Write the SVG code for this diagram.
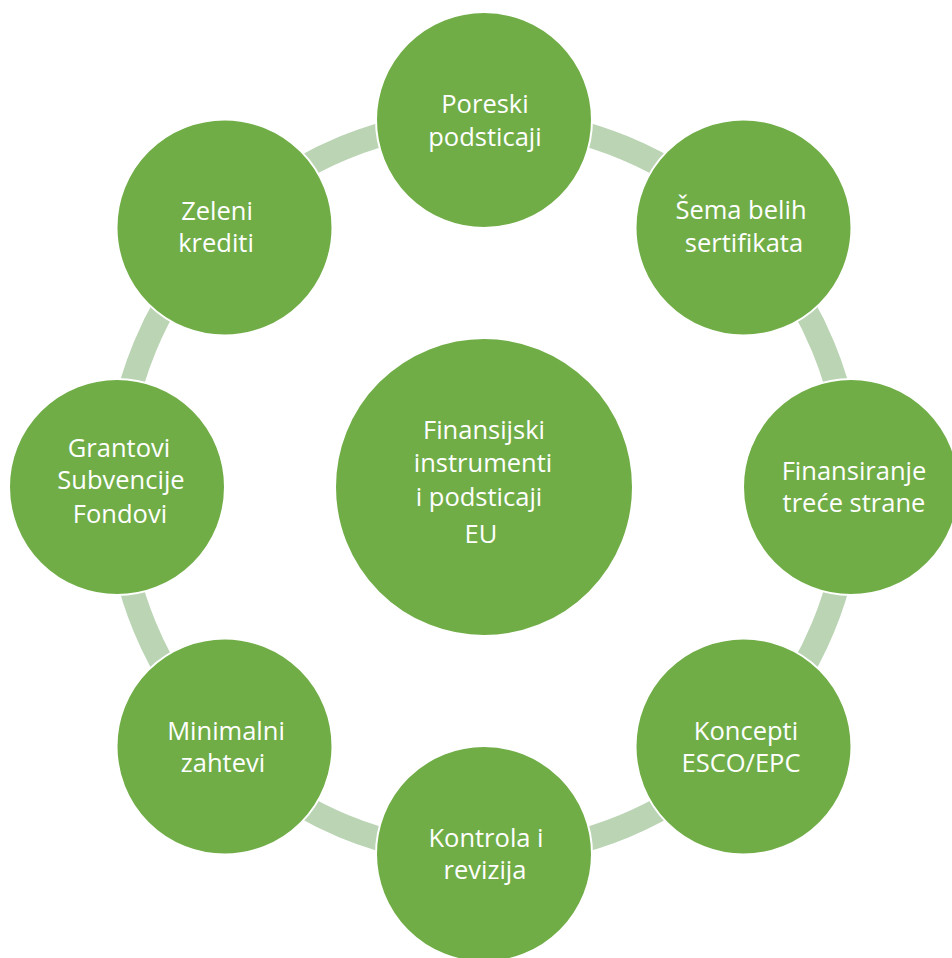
<svg xmlns="http://www.w3.org/2000/svg" width="952" height="958" viewBox="0 0 952 958">
<style>
.ring{fill:none;stroke:#bad4b4;stroke-width:24}
.node{fill:#70ad47;stroke:#ffffff;stroke-width:2}
.lbl{font-family:"Open Sans","Noto Sans","Liberation Sans",sans-serif;font-size:25.5px;fill:#ffffff;text-anchor:middle}
</style>
<rect width="952" height="958" fill="#ffffff"/>
<g id="connectors">
<path class="ring" d="M484,120 A367,367 0 0 1 743.51,227.49"/>
<path class="ring" d="M743.51,227.49 A367,367 0 0 1 851,487"/>
<path class="ring" d="M851,487 A367,367 0 0 1 743.51,746.51"/>
<path class="ring" d="M743.51,746.51 A367,367 0 0 1 484,854"/>
<path class="ring" d="M484,854 A367,367 0 0 1 224.49,746.51"/>
<path class="ring" d="M224.49,746.51 A367,367 0 0 1 117,487"/>
<path class="ring" d="M117,487 A367,367 0 0 1 224.49,227.49"/>
<path class="ring" d="M224.49,227.49 A367,367 0 0 1 484,120"/>
</g>
<g id="center">
<circle class="node" cx="484" cy="487" r="149"/>
<text class="lbl"><tspan x="484" y="439">Finansijski</tspan><tspan x="483" y="472">instrumenti</tspan><tspan x="479" y="506">i podsticaji</tspan><tspan x="481" y="543">EU</tspan></text>
</g>
<g id="poreski">
<circle class="node" cx="484" cy="120" r="108"/>
<text class="lbl"><tspan x="485" y="113">Poreski</tspan><tspan x="485" y="146">podsticaji</tspan></text>
</g>
<g id="sema">
<circle class="node" cx="743.5" cy="227.5" r="108"/>
<text class="lbl"><tspan x="741" y="219">Šema belih</tspan><tspan x="744" y="252">sertifikata</tspan></text>
</g>
<g id="finansiranje">
<circle class="node" cx="851" cy="487" r="108"/>
<text class="lbl"><tspan x="854" y="480">Finansiranje</tspan><tspan x="854" y="512">treće strane</tspan></text>
</g>
<g id="koncepti">
<circle class="node" cx="743.5" cy="746.5" r="108"/>
<text class="lbl"><tspan x="746" y="740">Koncepti</tspan><tspan x="741" y="772">ESCO/EPC</tspan></text>
</g>
<g id="kontrola">
<circle class="node" cx="484" cy="854" r="108"/>
<text class="lbl"><tspan x="486" y="847">Kontrola i</tspan><tspan x="485" y="879">revizija</tspan></text>
</g>
<g id="minimalni">
<circle class="node" cx="224.5" cy="746.5" r="108"/>
<text class="lbl"><tspan x="226" y="740">Minimalni</tspan><tspan x="223" y="772">zahtevi</tspan></text>
</g>
<g id="grantovi">
<circle class="node" cx="117" cy="487" r="108"/>
<text class="lbl"><tspan x="119" y="457">Grantovi</tspan><tspan x="121" y="489">Subvencije</tspan><tspan x="120" y="523">Fondovi</tspan></text>
</g>
<g id="zeleni">
<circle class="node" cx="224.5" cy="227.5" r="108"/>
<text class="lbl"><tspan x="217" y="220">Zeleni</tspan><tspan x="216" y="252">krediti</tspan></text>
</g>
</svg>
